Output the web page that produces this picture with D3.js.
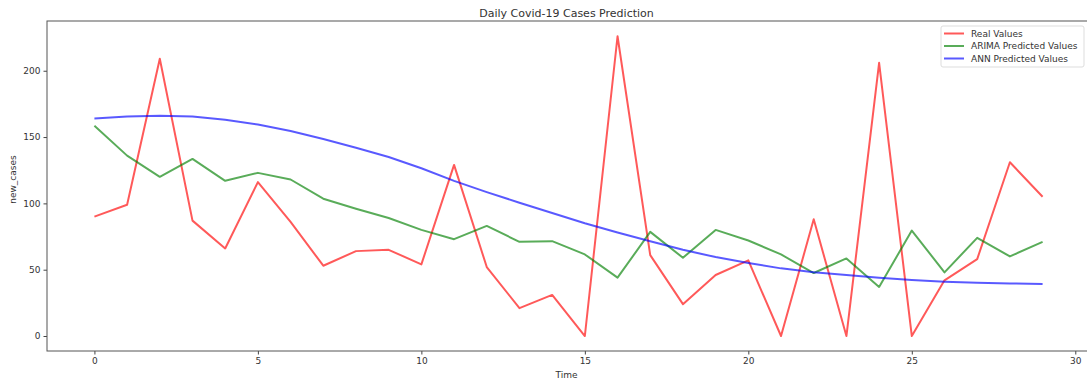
<!DOCTYPE html>
<html>
<head>
<meta charset="utf-8">
<script src="https://cdn.jsdelivr.net/npm/d3@7"></script>
<style>
  body { margin: 0; background: #fff; }
  svg { font-family: "DejaVu Sans", sans-serif; }
</style>
</head>
<body>
<svg id="chart" width="1087" height="383"></svg>
<script>
const realValues = [90, 99, 209, 87, 66, 116, 86, 53, 64, 65, 54, 129, 52, 21, 31, 0, 226, 61, 24, 46, 57, 0, 88, 0, 206, 0, 42, 58, 131, 105];
const arimaValues = [158.5, 136, 120, 133.5, 117, 123, 118, 103.5, 96, 89, 80, 73, 83, 71, 71.5, 61.5, 44, 78.5, 59, 80, 72, 61.5, 47.5, 58.5, 37, 79.5, 48, 74, 60, 71];
const annValues = [164, 165.5, 166, 165.5, 163, 159.5, 154.5, 148.5, 142, 135, 126.5, 117, 108.5, 100.5, 92.7, 85, 78, 71.5, 65, 59.5, 55, 51, 48, 46, 44, 42.3, 41, 40.2, 39.6, 39.3];
const xTicks = [0, 5, 10, 15, 20, 25, 30];
const yTicks = [0, 50, 100, 150, 200];
const seriesNames = ["Real Values", "ARIMA Predicted Values", "ANN Predicted Values"];
const seriesColors = ["#ff0000", "#008000", "#0000ff"];

const margin = {top: 21, right: -3, bottom: 32, left: 47};
const width = 1087 - margin.left - margin.right;
const height = 383 - margin.top - margin.bottom;

const svg = d3.select("#chart");
const g = svg.append("g").attr("transform", `translate(${margin.left},${margin.top})`);

const x = d3.scaleLinear().domain([-1.45, 30.45]).range([0, width]);
const y = d3.scaleLinear().domain([-11.3, 237.5]).range([height, 0]);

// axes
const xAxis = g.append("g")
    .attr("transform", `translate(0,${height})`)
    .call(d3.axisBottom(x).tickValues(xTicks).tickSize(3.5).tickPadding(3));
const yAxis = g.append("g")
    .call(d3.axisLeft(y).tickValues(yTicks).tickSize(3.5).tickPadding(3));
[xAxis, yAxis].forEach(a => {
    a.select(".domain").remove();
    a.selectAll("text").attr("fill", "#333").style("font-size", "9px").style("font-family", "DejaVu Sans");
    a.selectAll("line").attr("stroke", "#444");
});

// frame
g.append("rect")
    .attr("width", width)
    .attr("height", height)
    .attr("fill", "none")
    .attr("stroke", "#555")
    .attr("stroke-width", 1);

const line = d3.line().x((d, i) => x(i)).y(d => y(d));
[realValues, arimaValues, annValues].forEach((vals, k) => {
    g.append("path")
        .datum(vals)
        .attr("fill", "none")
        .attr("stroke", seriesColors[k])
        .attr("stroke-opacity", 0.65)
        .attr("stroke-width", 2)
        .attr("stroke-linejoin", "round")
        .attr("d", line);
});

// title and labels
svg.append("text")
    .attr("x", margin.left + width / 2 - 2)
    .attr("y", 17)
    .attr("text-anchor", "middle")
    .attr("fill", "#333")
    .style("font-size", "11px")
    .text("Daily Covid-19 Cases Prediction");

svg.append("text")
    .attr("x", margin.left + width / 2 - 2)
    .attr("y", 378)
    .attr("text-anchor", "middle")
    .attr("fill", "#333")
    .style("font-size", "9px")
    .text("Time");

svg.append("text")
    .attr("transform", `translate(16,${margin.top + y(118)}) rotate(-90)`)
    .attr("text-anchor", "middle")
    .attr("fill", "#333")
    .style("font-size", "9px")
    .text("new_cases");

// legend
const legend = svg.append("g").attr("transform", "translate(941,26)");
legend.append("rect")
    .attr("width", 143)
    .attr("height", 41)
    .attr("rx", 2)
    .attr("fill", "#fff")
    .attr("fill-opacity", 0.8)
    .attr("stroke", "#ddd");
seriesNames.forEach((name, k) => {
    const row = legend.append("g").attr("transform", `translate(0,${7.5 + k * 12.5})`);
    row.append("line")
        .attr("x1", 3).attr("x2", 23)
        .attr("stroke", seriesColors[k])
        .attr("stroke-opacity", 0.65)
        .attr("stroke-width", 2);
    row.append("text")
        .attr("x", 30)
        .attr("dy", "0.35em")
        .attr("fill", "#333")
        .style("font-size", "9px")
        .text(name);
});
</script>
</body>
</html>
